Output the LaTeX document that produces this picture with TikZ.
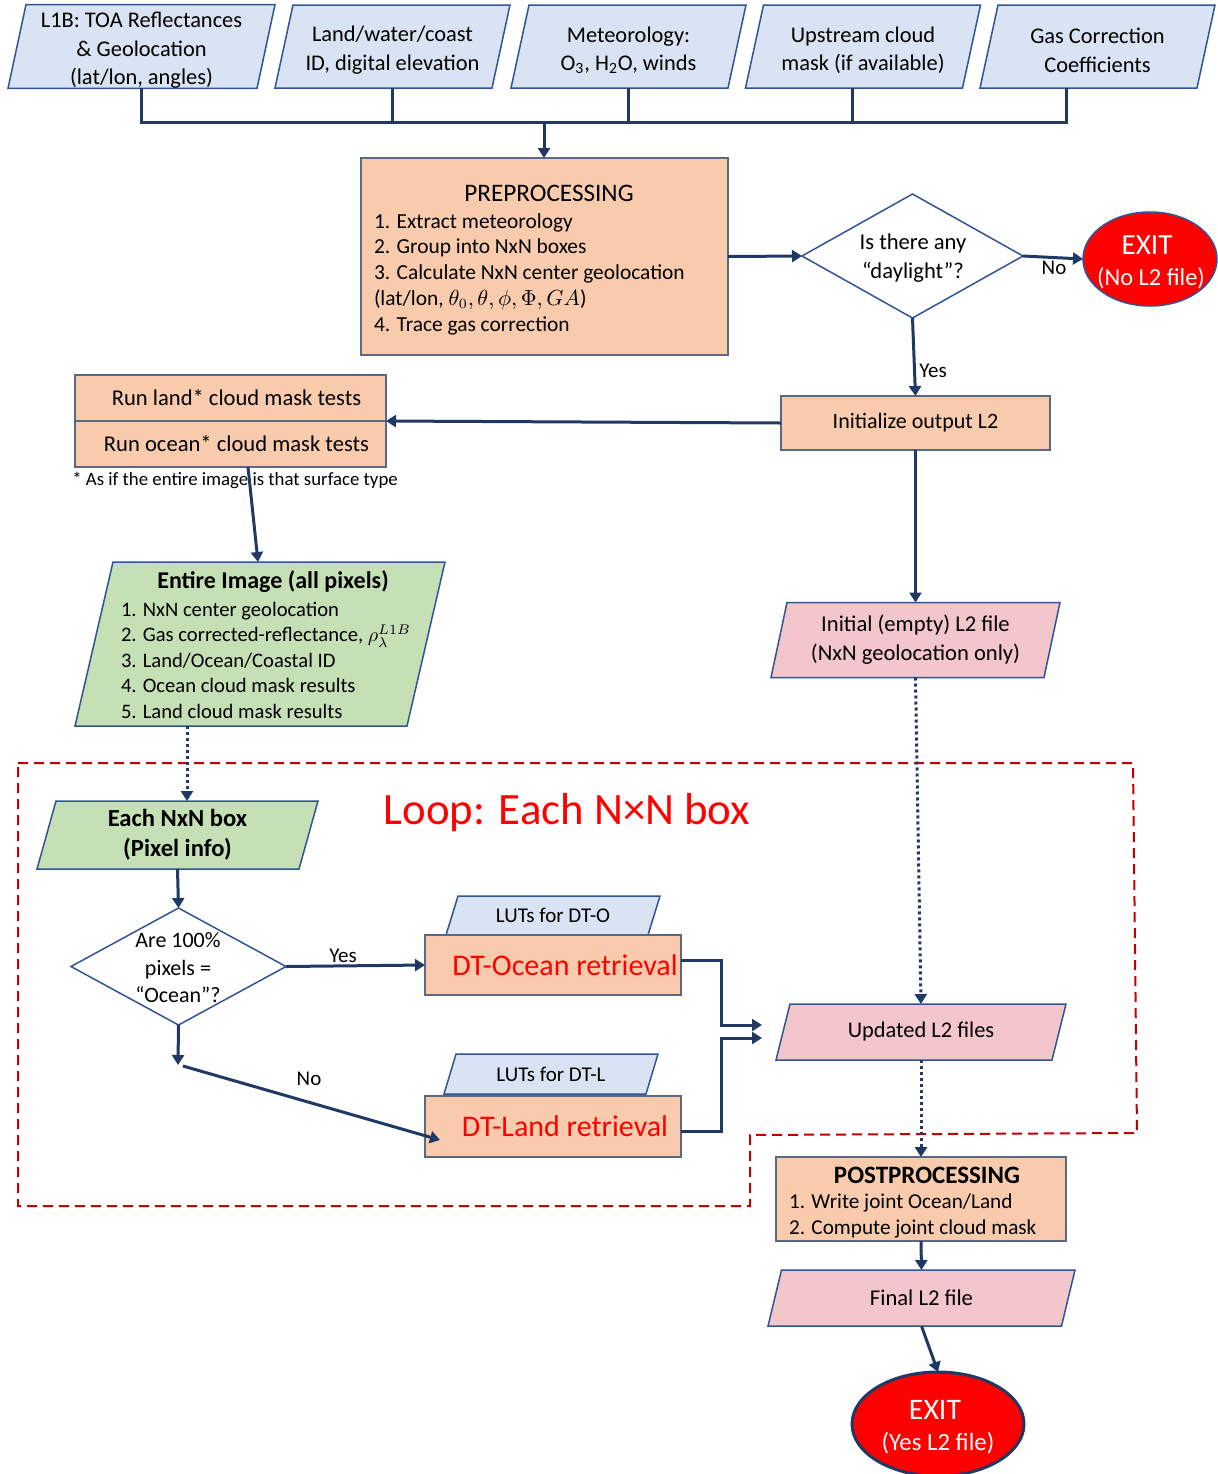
\documentclass[tikz,border=0pt]{standalone}
\usepackage{fontspec}
\setmainfont{Carlito}
\usetikzlibrary{shapes.geometric,arrows.meta,calc}
\pgfdeclarelayer{bg}
\pgfsetlayers{bg,main}
\definecolor{navy}{RGB}{32,56,100}
\definecolor{bblue}{RGB}{47,85,151}
\definecolor{lblue}{RGB}{218,227,243}
\definecolor{peach}{RGB}{248,203,173}
\definecolor{lgreen}{RGB}{197,224,180}
\definecolor{lpink}{RGB}{243,198,204}
\definecolor{slate}{RGB}{90,104,130}
\definecolor{dred}{RGB}{192,0,0}
\definecolor{bred}{RGB}{255,0,0}
% parallelogram frame behind a named rectangular node: name, slant, fill
\newcommand\pframe[3]{%
  \begin{pgfonlayer}{bg}
  \draw[draw=bblue, line width=0.75pt, fill=#3]
    ($(#1.north west)+(#2/2,0)$) -- ($(#1.north east)+(#2/2,0)$) --
    ($(#1.south east)-(#2/2,0)$) -- ($(#1.south west)-(#2/2,0)$) -- cycle;
  \end{pgfonlayer}}
\newcommand\topstrut{\rule{0pt}{11.5pt}}
\begin{document}
\begin{tikzpicture}[x=0.5pt,y=-0.5pt,
  base/.style={inner sep=0pt, outer sep=0pt, align=center, text=black},
  pnode/.style={base, rectangle},
  inbox/.style={pnode, minimum height=41.5pt, minimum width=108.5pt,
     font=\fontsize{11.2}{14.25}\selectfont},
  pbox/.style={base, rectangle, draw=slate, line width=0.75pt, fill=peach},
  ln/.style={draw=navy, line width=1.5pt},
  arr/.style={ln, -{Triangle[length=5pt,width=6pt]}},
  dot/.style={arr, dash pattern=on 1.5pt off 1.5pt},
  lbl/.style={base, font=\fontsize{10.5}{12}\selectfont},
  dia/.style={base, diamond, draw=bblue, line width=0.75pt, fill=white},
]
\useasboundingbox (0,0) rectangle (1217,1474);

% ---------- loop frame ----------
\draw[dred, line width=1pt, dash pattern=on 5pt off 3pt]
  (18,763) -- (1133,763) -- (1137,1133) -- (750,1135) -- (750,1206) -- (18,1206) -- cycle;
\node[base, text=bred, font=\fontsize{22.4}{26}\selectfont] (loopT) at (567,813) {Loop: Each N×N box};

% ---------- inputs ----------
\node[inbox, minimum width=124.5pt] (t1) at (141.5,46.5) {\topstrut L1B: TOA Reflectances\\\& Geolocation\\(lat/lon, angles)};
\node[inbox] (t2) at (392.5,46.5) {\topstrut Land/water/coast\\ID, digital elevation};
\node[inbox] (t3) at (628.5,46.5) {\topstrut Meteorology:\\O\textsubscript{3}, H\textsubscript{2}O, winds};
\node[inbox] (t4) at (863,46.5) {\topstrut Upstream cloud\\mask (if available)};
\node[inbox] (t5) at (1097.5,46.5) {\topstrut Gas Correction\\Coefficients};
\pframe{t1}{18}{lblue}
\pframe{t2}{18}{lblue}
\pframe{t3}{18}{lblue}
\pframe{t4}{18}{lblue}
\pframe{t5}{18}{lblue}

\coordinate (bus) at (544,122);
\coordinate (c4) at ($(t4.south)+(-11,0)$);
\coordinate (c5) at ($(t5.south)+(-31.5,0)$);
\draw[ln] (t1.south) |- (c5 |- bus) -- (c5);
\draw[ln] (t2.south) -- (t2.south |- bus);
\draw[ln] (t3.south) -- (t3.south |- bus);
\draw[ln] (c4) -- (c4 |- bus);

% ---------- preprocessing ----------
\node[pbox, minimum width=183.5pt, minimum height=98.5pt] (pre) at (544.5,256.5) {};
\node[base, font=\fontsize{12.6}{15}\selectfont] (preT) at (549,193) {PREPROCESSING};
\node[base, align=left, anchor=west, font=\fontsize{10.7}{12.9}\selectfont] (preL) at (374,274)
  {1. Extract meteorology\\2. Group into NxN boxes\\3. Calculate NxN center geolocation\\(lat/lon, $\theta_0, \theta, \phi, \Phi, GA$)\\4. Trace gas correction};
\draw[arr] (bus) -- (bus |- pre.north);

% ---------- daylight ----------
\node[dia, minimum width=110.5pt, minimum height=62pt] (dd) at (912.5,256) {};
\node[base, font=\fontsize{11.3}{14.5}\selectfont] (ddT) at (913,258) {Is there any\\“daylight”?};
\node[base, ellipse, draw=bblue, line width=0.75pt, fill=bred, minimum width=67pt, minimum height=47pt] (ex1) at (1150,259) {};
\node[base, text=white, font=\fontsize{14.6}{16}\selectfont] (ex1a) at (1147,245) {EXIT};
\node[base, text=white, font=\fontsize{12.2}{14}\selectfont] (ex1b) at (1151,278) {(No L2 file)};
\draw[arr] (pre.east) -- (dd.west);
\draw[arr] (dd.east) -- (ex1.west);
\node[lbl] (no1) at (1054,268) {No};

% ---------- init ----------
\node[pbox, minimum width=134.5pt, minimum height=27pt, font=\fontsize{11}{13}\selectfont] (init) at (915.5,423) {Initialize output L2};
\draw[arr] (dd.south) -- (init.north);
\node[lbl] (yes1) at (933,371) {Yes};

% ---------- cloud mask ----------
\node[pbox, minimum width=155.5pt, minimum height=23pt, font=\fontsize{11.3}{13}\selectfont] (land) at (230.5,398) {\hspace{6pt}Run land* cloud mask tests};
\node[pbox, minimum width=155.5pt, minimum height=23pt, font=\fontsize{11.3}{13}\selectfont] (ocean) at (230.5,444) {\hspace{6pt}Run ocean* cloud mask tests};
\node[base, font=\fontsize{9.4}{11}\selectfont] (fn) at (235,480) {* As if the entire image is that surface type};
\draw[arr] (init.west) -- (land.south east);

% ---------- entire image ----------
\node[pnode, minimum width=166pt, minimum height=82pt] (ent) at (260,644) {};
\pframe{ent}{38}{lgreen}
\node[base, font=\bfseries\fontsize{12}{14}\selectfont] (entT) at (273,582) {Entire Image (all pixels)};
\node[base, align=left, anchor=west, font=\fontsize{10.3}{12.75}\selectfont] (entL) at (121,660)
  {1. NxN center geolocation\\2. Gas corrected-reflectance, $\rho_{\lambda}^{L1B}$\\3. Land/Ocean/Coastal ID\\4. Ocean cloud mask results\\5. Land cloud mask results};
\draw[arr] ($(ocean.south)+(17.5,0)$) -- ($(ent.north)+(-2,0)$);

% ---------- initial L2 ----------
\node[pnode, minimum width=136.5pt, minimum height=37.5pt, font=\fontsize{11.3}{14.5}\selectfont] (initE) at (915.5,640) {Initial (empty) L2 file\\(NxN geolocation only)};
\pframe{initE}{16}{lpink}
\draw[arr] (init.south) -- (initE.north);

% ---------- loop body ----------
\node[pnode, minimum width=131pt, minimum height=34pt, font=\bfseries\fontsize{12.3}{15}\selectfont] (each) at (177.5,835) {Each NxN box\\(Pixel info)};
\pframe{each}{19}{lgreen}
\coordinate (d1) at ($(ent.south)+(-73,0)$);
\draw[dot] (d1) -- (d1 |- each.north);

\node[dia, minimum width=107.5pt, minimum height=58.5pt] (q) at (178.5,966.5) {};
\node[base, font=\fontsize{11}{13.75}\selectfont] (qT) at (178,968) {Are 100\%\\pixels =\\“Ocean”?};
\draw[arr] (each.south) -- (q.north);

\node[pnode, minimum width=101pt, minimum height=19.5pt, font=\fontsize{10.5}{12}\selectfont] (ldo) at (553,915.5) {LUTs for DT-O};
\pframe{ldo}{12}{lblue}
\node[pbox, minimum width=128pt, minimum height=30pt, text=bred, font=\fontsize{15}{17}\selectfont] (dto) at (553,965) {\hspace{12pt}DT-Ocean retrieval};
\node[pnode, minimum width=101pt, minimum height=20pt, font=\fontsize{10.5}{12}\selectfont] (ldl) at (551,1074) {LUTs for DT-L};
\pframe{ldl}{12}{lblue}
\node[pbox, minimum width=128pt, minimum height=30.5pt, text=bred, font=\fontsize{15}{17}\selectfont] (dtl) at (553,1126.5) {\hspace{12pt}DT-Land retrieval};

\draw[arr] (q.east) -- (dto.west);
\node[lbl] (yes2) at (343,956) {Yes};
\coordinate (nq) at (178,1065);
\draw[arr] (q.south) -- (nq);
\draw[arr] ($(nq)+(5,1)$) -- ($(dtl.south west)+(15,-17)$);
\node[lbl] (no2) at (309,1079) {No};

\node[pnode, minimum width=138pt, minimum height=28pt, font=\fontsize{11.2}{13}\selectfont] (upd) at (921,1032) {Updated L2 files};
\pframe{upd}{14}{lpink}
\draw[arr] ($(dto.east)+(0,-5)$) -- ++(40,0) |- ($(upd.west)+(-21,-7)$);
\draw[arr] ($(dtl.east)+(0,4.5)$) -- ++(40,0) |- ($(upd.west)+(-21,6)$);
\draw[dot] (initE.south) -- (upd.north);

% ---------- postprocessing ----------
\node[pbox, minimum width=145pt, minimum height=42pt] (post) at (921,1199) {};
\node[base, font=\bfseries\fontsize{12.5}{15}\selectfont] (postT) at (927,1175) {POSTPROCESSING};
\node[base, align=left, anchor=west, font=\fontsize{10.6}{13}\selectfont] (postL) at (789,1216)
  {1. Write joint Ocean/Land\\2. Compute joint cloud mask};
\draw[dot] (upd.south) -- (post.north);

\node[pnode, minimum width=146.75pt, minimum height=28pt, font=\fontsize{11.3}{13}\selectfont] (fin) at (921.5,1298) {Final L2 file};
\pframe{fin}{13.5}{lpink}
\draw[arr] (post.south) -- (fin.north);

\node[base, ellipse, draw=navy, line width=1.5pt, fill=bred, minimum width=86pt, minimum height=52pt] (ex2) at (938,1424) {};
\node[base, text=white, font=\fontsize{14.9}{16}\selectfont] (ex2a) at (935,1410) {EXIT};
\node[base, text=white, font=\fontsize{12.4}{14}\selectfont] (ex2b) at (938,1443) {(Yes L2 file)};
\draw[arr] (fin.south) -- (ex2.north);
\end{tikzpicture}
\end{document}
